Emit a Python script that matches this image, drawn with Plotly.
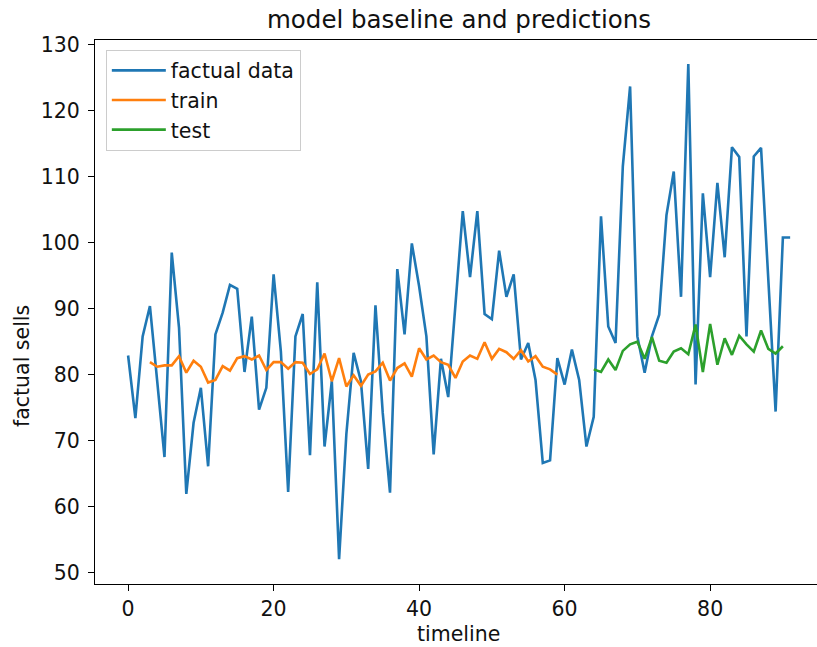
import plotly.graph_objects as go

# factual data (x = 0..91)
factual_x = list(range(92))
factual_y = [82.9, 73.4, 85.8, 90.4, 79.0, 67.5, 98.5, 87.1, 61.9, 72.7,
             78.0, 66.1, 86.1, 89.4, 93.6, 93.0, 80.4, 88.8, 74.7, 78.0,
             95.2, 83.5, 62.2, 85.8, 89.2, 67.8, 94.0, 69.1, 79.0, 52.0,
             71.0, 83.3, 79.0, 65.7, 90.5, 74.2, 62.1, 96.0, 86.1, 99.9,
             93.4, 85.8, 67.9, 82.4, 76.6, 90.6, 104.8, 94.8, 104.8, 89.2,
             88.4, 98.8, 91.8, 95.2, 82.3, 84.8, 79.2, 66.6, 67.0, 82.5,
             78.5, 83.8, 79.2, 69.1, 73.6, 104.0, 87.3, 84.8, 111.6, 123.7,
             85.8, 80.3, 85.8, 89.1, 104.2, 110.8, 91.8, 127.1, 78.5, 107.5,
             94.8, 109.1, 97.8, 114.5, 113.0, 85.8, 113.1, 114.4, 94.0, 74.4,
             100.8, 100.8]

# train predictions (x = 3..59)
train_x = list(range(3, 60))
train_y = [81.9, 81.2, 81.4, 81.4, 82.8, 80.3, 82.1, 81.2, 78.8, 79.2,
           81.3, 80.6, 82.5, 82.8, 82.3, 82.9, 80.7, 81.9, 81.9, 80.9,
           81.9, 81.8, 80.1, 80.8, 83.2, 79.0, 82.5, 78.2, 79.9, 78.3,
           80.0, 80.5, 81.8, 79.1, 81.0, 81.7, 79.7, 84.0, 82.3, 82.9,
           81.9, 81.5, 79.5, 82.0, 82.9, 82.4, 84.9, 82.4, 83.9, 83.4,
           82.4, 83.7, 82.0, 82.8, 81.2, 80.8, 80.0]

# test predictions (x = 64..90)
test_x = list(range(64, 91))
test_y = [80.8, 80.4, 82.3, 80.7, 83.6, 84.6, 85.0, 82.4, 85.7, 82.1,
          81.8, 83.5, 84.0, 83.1, 87.6, 80.4, 87.7, 81.5, 85.5, 83.0,
          85.9, 84.6, 83.5, 86.7, 83.9, 83.2, 84.3]

x_ticks = [0, 20, 40, 60, 80]
y_ticks = [50, 60, 70, 80, 90, 100, 110, 120, 130]

FS = 20.5

fig = go.Figure()
fig.add_trace(go.Scatter(x=factual_x, y=factual_y, mode='lines', name='factual data',
                         line=dict(color='#1f77b4', width=2.6), legendgroup='a'))
fig.add_trace(go.Scatter(x=train_x, y=train_y, mode='lines', name='train',
                         line=dict(color='#ff7f0e', width=2.6), legendgroup='b'))
fig.add_trace(go.Scatter(x=test_x, y=test_y, mode='lines', name='test',
                         line=dict(color='#2ca02c', width=2.6), legendgroup='c'))

fig.update_layout(
    width=817, height=647,
    margin=dict(l=95, r=0, t=40, b=63),
    plot_bgcolor='white', paper_bgcolor='white',
    font=dict(family='DejaVu Sans', size=FS, color='#111111'),
    title=dict(text='model baseline and predictions', x=459/817, xref='container',
               xanchor='center', y=1 - 19/647, yref='container', yanchor='middle',
               font=dict(size=24.5, color='#111111')),
    showlegend=True,
    legend=dict(x=0.015, y=0.9825, xanchor='left', yanchor='top',
                bordercolor='#cccccc', borderwidth=1, bgcolor='rgba(255,255,255,0.8)',
                font=dict(size=FS), tracegroupgap=4, traceorder='normal',
                itemwidth=54),
    xaxis=dict(range=[-4.55, 94.69], tickvals=x_ticks, showgrid=False, zeroline=False,
               showline=True, linecolor='black', linewidth=1.2, mirror=True,
               ticks='outside', ticklen=6, tickcolor='black', tickwidth=1.2,
               automargin=False),
    yaxis=dict(range=[48.25, 130.75], tickvals=y_ticks, showgrid=False, zeroline=False,
               showline=True, linecolor='black', linewidth=1.2, mirror=False,
               ticks='outside', ticklen=6, tickcolor='black', tickwidth=1.2,
               ticklabelstandoff=4, automargin=False),
    annotations=[
        dict(text='timeline', x=(459 - 95) / 722, y=-(634 - 584) / 544,
             xref='paper', yref='paper', xanchor='center', yanchor='middle',
             showarrow=False, font=dict(size=FS)),
        dict(text='factual sells', x=-(95 - 22) / 722, y=1 - (366 - 40) / 544,
             xref='paper', yref='paper', xanchor='center', yanchor='middle',
             textangle=-90, showarrow=False, font=dict(size=FS)),
    ],
)

fig.write_html("out.html", config={'displayModeBar': False},
               post_script="document.body.style.margin='0px';document.body.style.overflow='hidden';")
